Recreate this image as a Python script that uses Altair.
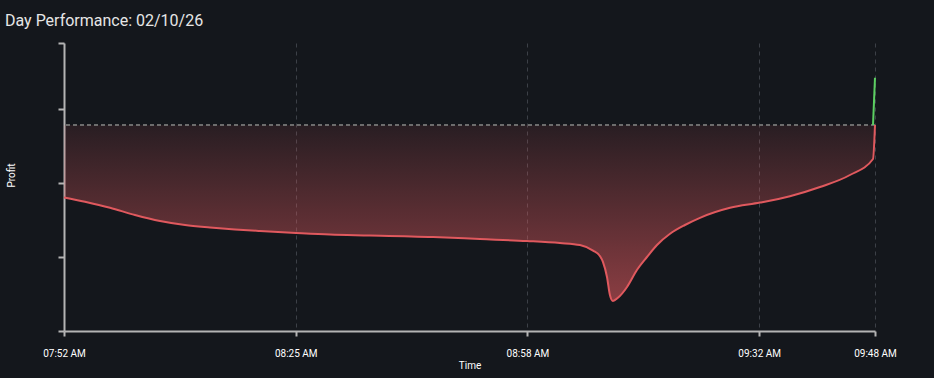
import altair as alt
import pandas as pd

# ---- data ----
times = [
    "07:52:12", "07:55:12", "07:58:47", "08:02:21", "08:05:56", "08:09:31",
    "08:13:05", "08:16:40", "08:20:14", "08:25:23", "08:30:15", "08:35:58",
    "08:44:59", "08:51:42", "08:58:25", "09:03:08", "09:06:00", "09:07:52",
    "09:08:52", "09:09:17", "09:09:52", "09:10:17", "09:10:43", "09:11:26",
    "09:12:44", "09:14:10", "09:15:35", "09:17:01", "09:18:53", "09:21:01",
    "09:23:10", "09:27:28", "09:31:45", "09:36:02", "09:40:20", "09:44:37",
    "09:47:55", "09:48:12",
]
profit = [
    -181, -192, -207, -225, -240, -250,
    -256, -261, -265, -270, -274, -276,
    -280, -285, -290, -295, -300, -314,
    -328, -342, -380, -425, -440, -432,
    -405, -362, -330, -300, -272, -250,
    -232, -207, -194, -178, -155, -125,
    -85, 118,
]
day = "2026-02-10"
title_text = "Day Performance: 02/10/26"
y_ticks = [-515, -330, -145, 40, 205]
y_domain = [-515, 205]
x_tick_times = ["07:52:12", "08:25:21", "08:58:29", "09:31:38", "09:48:12"]

BG = "#14171c"
RED = "#e0595e"
GREEN = "#5ccf62"
AXIS = "#b4b4b4"
FONT = "Roboto"


def dt(t):
    h, m, s = (int(p) for p in t.split(":"))
    y, mo, d = (int(p) for p in day.split("-"))
    return alt.DateTime(year=y, month=mo, date=d, hours=h, minutes=m, seconds=s)


df = pd.DataFrame({"t": [f"{day}T{t}" for t in times], "v": profit})
df["idx"] = range(len(df))
last_idx = len(df) - 1

x_enc = alt.X(
    "t:T",
    scale=alt.Scale(domain=[dt(times[0]), dt(times[-1])], nice=False),
    axis=alt.Axis(
        title="Time",
        values=[dt(t) for t in x_tick_times],
        labelExpr="timeFormat(time(datum.value) + 30000, '%I:%M %p')",
        grid=True,
        gridColor="#3c4047",
        gridDash=[4, 4],
        gridWidth=1,
        domainColor=AXIS,
        domainWidth=2,
        tickColor=AXIS,
        tickWidth=2,
        tickSize=5,
        labelColor="#ffffff",
        labelFont=FONT,
        labelFontSize=10,
        labelPadding=12,
        labelFlush=False,
        titleColor="#ffffff",
        titleFont=FONT,
        titleFontSize=10,
        titleFontWeight="normal",
        titlePadding=2,
    ),
)

y_scale = alt.Scale(domain=y_domain, nice=False, zero=False)
y_axis = alt.Axis(
    title="Profit",
    values=y_ticks,
    labels=False,
    grid=False,
    domainColor=AXIS,
    domainWidth=2,
    tickColor=AXIS,
    tickWidth=2,
    tickSize=6,
    titleColor="#ffffff",
    titleFont=FONT,
    titleFontSize=10,
    titleFontWeight="normal",
    titleAngle=-90,
    titleX=-53,
    titleY=132,
    titleAlign="center",
    titleBaseline="middle",
)

base = alt.Chart(df).transform_calculate(
    neg="min(datum.v, 0)", pos="max(datum.v, 0)"
)

area = base.mark_area(
    interpolate="monotone",
    color=alt.Gradient(
        gradient="linear",
        stops=[
            alt.GradientStop(color="rgba(224,89,94,0.10)", offset=0),
            alt.GradientStop(color="rgba(224,89,94,0.58)", offset=1),
        ],
        x1=0, x2=0, y1=0, y2=1,
    ),
).encode(
    x=x_enc,
    y=alt.Y("neg:Q", scale=y_scale, axis=y_axis),
    y2=alt.datum(0),
)

zero = base.mark_rule(color="#6e6e6e", strokeDash=[4, 3], strokeWidth=1).encode(
    y=alt.datum(0)
)

red_line = base.mark_line(interpolate="monotone", color=RED, strokeWidth=2).encode(
    x="t:T", y="neg:Q"
)

green_line = (
    base.transform_filter(f"datum.idx >= {last_idx - 1}")
    .mark_line(color=GREEN, strokeWidth=2)
    .encode(x="t:T", y="pos:Q")
)

chart = (
    alt.layer(area, zero, red_line, green_line)
    .properties(
        width=811,
        height=288,
        padding={"left": 64, "top": 43, "right": 59, "bottom": 47},
        autosize=alt.AutoSizeParams(type="none"),
        background=BG,
        title=alt.TitleParams(
            text=title_text,
            anchor="start",
            frame="group",
            font=FONT,
            fontSize=16,
            fontWeight="normal",
            color="#e6e6e6",
            dx=-59,
            offset=0,
            baseline="alphabetic",
        ),
    )
    .configure_view(stroke=None)
)

chart.save("out.html", embed_options={"renderer": "svg", "actions": False})
